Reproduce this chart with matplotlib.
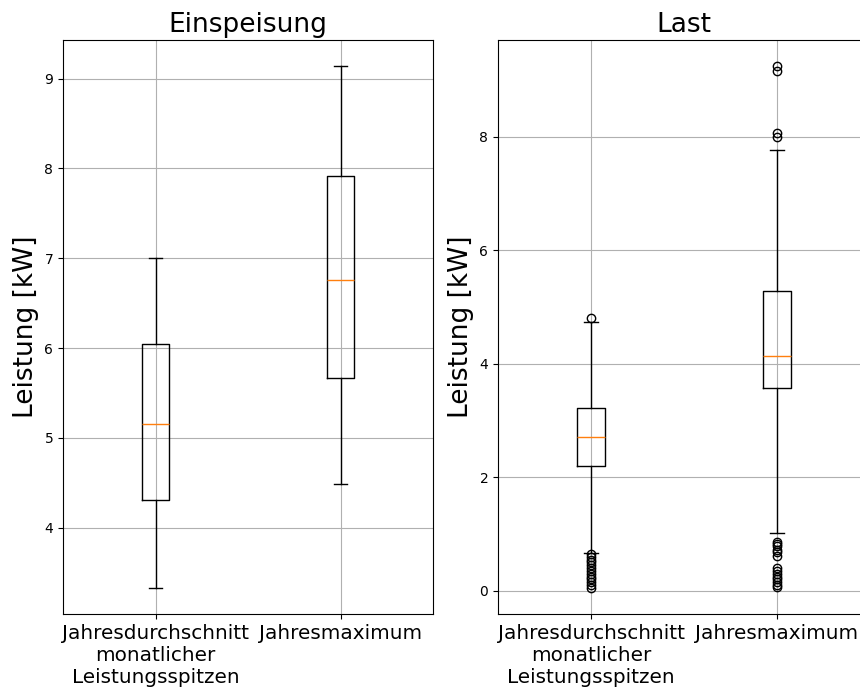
import matplotlib
matplotlib.use('Agg')
import matplotlib.pyplot as plt

labels = ['Jahresdurchschnitt\nmonatlicher\nLeistungsspitzen', 'Jahresmaximum']

# Einspeisung: [whislo, q1, med, q3, whishi]
einsp_avg = [3.33, 4.31, 5.15, 6.05, 7.00]
einsp_max = [4.49, 5.67, 6.76, 7.92, 9.14]
einsp_avg_fliers = []
einsp_max_fliers = []

# Last
last_avg = [0.67, 2.20, 2.71, 3.22, 4.74]
last_max = [1.02, 3.58, 4.14, 5.29, 7.77]
last_avg_fliers = [4.81, 0.65, 0.60, 0.55, 0.50, 0.45, 0.40, 0.35, 0.30,
                   0.25, 0.20, 0.15, 0.10, 0.05]
last_max_fliers = [9.25, 9.16, 8.07, 8.00, 0.86, 0.82, 0.78, 0.72, 0.68,
                   0.62, 0.40, 0.35, 0.30, 0.25, 0.20, 0.15, 0.10, 0.07]


def make_stats(vals, fliers, label):
    lo, q1, med, q3, hi = vals
    return dict(whislo=lo, q1=q1, med=med, q3=q3, whishi=hi,
                fliers=fliers, label=label)


fig = plt.figure(figsize=(8.6, 6.88), dpi=100)
ax1 = fig.add_axes([0.0733, 0.1076, 0.4302, 0.8343])
ax2 = fig.add_axes([0.5791, 0.1076, 0.4326, 0.8343])

panels = [
    (ax1, 'Einspeisung', [(einsp_avg, einsp_avg_fliers), (einsp_max, einsp_max_fliers)]),
    (ax2, 'Last', [(last_avg, last_avg_fliers), (last_max, last_max_fliers)]),
]

for ax, title, data in panels:
    stats = [make_stats(v, f, l) for (v, f), l in zip(data, labels)]
    ax.bxp(stats, showfliers=True)
    ax.set_title(title, fontsize=19)
    ax.set_ylabel('Leistung [kW]', fontsize=19)
    ax.tick_params(axis='x', labelsize=14.4)
    ax.grid(True)

# the right panel runs off the edge of the picture
ax2.spines['right'].set_visible(False)

fig.savefig('out.png', dpi=100)
